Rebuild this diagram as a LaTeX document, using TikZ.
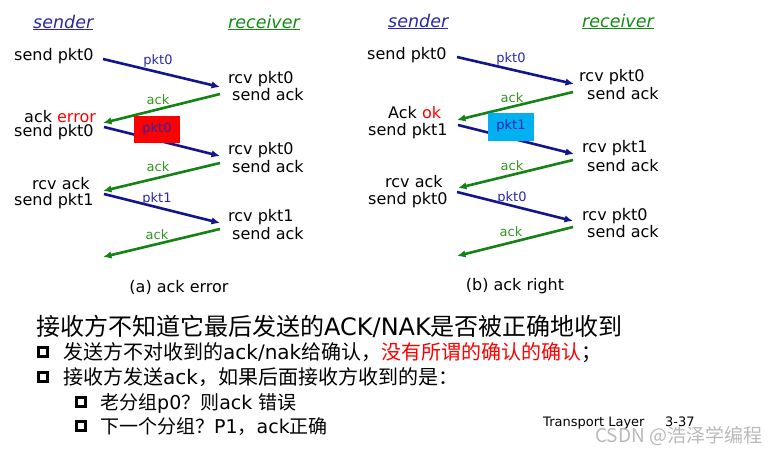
\documentclass[tikz,border=0pt]{standalone}
\usepackage{fontspec}
\setmainfont{DejaVu Sans}
\newfontfamily\cjk{Noto Sans CJK SC}
\usetikzlibrary{arrows.meta}
\definecolor{arrblue}{RGB}{20,20,140}
\definecolor{arrgreen}{RGB}{20,130,20}
\definecolor{lblblue}{RGB}{40,40,170}
\definecolor{lblgreen}{RGB}{50,150,30}
\definecolor{cyanbox}{RGB}{0,176,240}
\definecolor{wmgray}{RGB}{185,185,185}
\definecolor{ttlblue}{RGB}{40,40,170}
\definecolor{ttlgreen}{RGB}{20,140,20}
\tikzset{
  tbase/.style={inner sep=0pt, text height=.76em, text depth=.24em},
  txt/.style={tbase, anchor=base west, font=\fontsize{16}{19}\selectfont},
  captxt/.style={tbase, anchor=base, font=\fontsize{16}{19}\selectfont},
  ttl/.style={tbase, anchor=base west, font=\fontsize{17.5}{20}\selectfont\itshape},
  lbl/.style={tbase, anchor=center, font=\fontsize{13}{15}\selectfont},
  boxlbl/.style={lbl, minimum width=46pt, minimum height=27pt, text=lblblue},
  pktarrow/.style={draw=arrblue, line width=2.6pt, -{Latex[length=8.5pt,width=7.5pt]}},
  ackarrow/.style={draw=arrgreen, line width=2.6pt, -{Latex[length=8.5pt,width=7.5pt]}},
  bigline/.style={inner sep=0pt, anchor=base west, font=\fontsize{24}{28}\selectfont},
  midline/.style={inner sep=0pt, anchor=base west, font=\fontsize{20}{24}\selectfont},
  subline/.style={inner sep=0pt, anchor=base west, font=\fontsize{19}{23}\selectfont},
  bul/.style={draw, line width=2.5pt, minimum size=9pt, inner sep=0pt},
}
\begin{document}
\begin{tikzpicture}[x=1pt,y=-1pt]
\useasboundingbox (0,0) rectangle (783,453);

% ---------- (a) ack error ----------
\node[ttl, text=ttlblue] (snda) at (33,28) {\underline{sender}};
\node[ttl, text=ttlgreen] (rcva) at (228,28) {\underline{receiver}};

\node[txt] (sa1) at (14,60) {send pkt0};
\node[txt] (sa2) at (24,122) {ack \textcolor{red}{error}};
\node[txt] (sa3) at (14,136.5) {send pkt0};
\node[txt] (sa4) at (32,189) {rcv ack};
\node[txt] (sa5) at (14,205) {send pkt1};

\node[txt] (ra1) at (228,83) {rcv pkt0};
\node[txt] (ra2) at (232,100) {send ack};
\node[txt] (ra3) at (228,154) {rcv pkt0};
\node[txt] (ra4) at (232,172) {send ack};
\node[txt] (ra5) at (228,221) {rcv pkt1};
\node[txt] (ra6) at (232,239) {send ack};

\coordinate (pa1s) at (103,59);  \coordinate (pa1e) at (220,87);
\coordinate (aa1s) at (220,94);  \coordinate (aa1e) at (103,123);
\coordinate (pa2s) at (104,127); \coordinate (pa2e) at (220,156);
\coordinate (aa2s) at (220,163); \coordinate (aa2e) at (103,191);
\coordinate (pa3s) at (104,194); \coordinate (pa3e) at (220,223);
\coordinate (aa3s) at (220,229); \coordinate (aa3e) at (103,257);

\draw[pktarrow] (pa1s) -- (pa1e);
\draw[ackarrow] (aa1s) -- (aa1e);
\draw[pktarrow] (pa2s) -- (pa2e);
\draw[ackarrow] (aa2s) -- (aa2e);
\draw[pktarrow] (pa3s) -- (pa3e);
\draw[ackarrow] (aa3s) -- (aa3e);

\node[lbl, text=lblblue] (la1) at (158,61.5) {pkt0};
\node[lbl, text=lblgreen] (la2) at (158,101.5) {ack};
\node[boxlbl, fill=red] (la3) at (157,129.5) {pkt0};
\node[lbl, text=lblgreen] (la4) at (158,168.5) {ack};
\node[lbl, text=lblblue] (la5) at (157,199.5) {pkt1};
\node[lbl, text=lblgreen] (la6) at (157,236.5) {ack};

\node[captxt] (capa) at (179,292) {(a) ack error};

% ---------- (b) ack right ----------
\node[ttl, text=ttlblue] (sndb) at (388,27) {\underline{sender}};
\node[ttl, text=ttlgreen] (rcvb) at (582,27) {\underline{receiver}};

\node[txt] (sb1) at (367,59) {send pkt0};
\node[txt] (sb2) at (388,118.5) {Ack \textcolor{red}{ok}};
\node[txt] (sb3) at (368,135) {send pkt1};
\node[txt] (sb4) at (385,187) {rcv ack};
\node[txt] (sb5) at (368,204) {send pkt0};

\node[txt] (rb1) at (579,81) {rcv pkt0};
\node[txt] (rb2) at (587,99) {send ack};
\node[txt] (rb3) at (582,152) {rcv pkt1};
\node[txt] (rb4) at (587,171) {send ack};
\node[txt] (rb5) at (582,220) {rcv pkt0};
\node[txt] (rb6) at (587,237) {send ack};

\coordinate (pb1s) at (457,57);  \coordinate (pb1e) at (574,84);
\coordinate (ab1s) at (573,92);  \coordinate (ab1e) at (457,120);
\coordinate (pb2s) at (458,125); \coordinate (pb2e) at (574,154);
\coordinate (ab2s) at (573,160); \coordinate (ab2e) at (458,188);
\coordinate (pb3s) at (457,192); \coordinate (pb3e) at (573,221);
\coordinate (ab3s) at (573,227); \coordinate (ab3e) at (457,256);

\draw[pktarrow] (pb1s) -- (pb1e);
\draw[ackarrow] (ab1s) -- (ab1e);
\draw[pktarrow] (pb2s) -- (pb2e);
\draw[ackarrow] (ab2s) -- (ab2e);
\draw[pktarrow] (pb3s) -- (pb3e);
\draw[ackarrow] (ab3s) -- (ab3e);

\node[lbl, text=lblblue] (lb1) at (511,59.5) {pkt0};
\node[lbl, text=lblgreen] (lb2) at (512,99.5) {ack};
\node[boxlbl, fill=cyanbox, minimum height=28pt] (lb3) at (511,127) {pkt1};
\node[lbl, text=lblgreen] (lb4) at (512,167.5) {ack};
\node[lbl, text=lblblue] (lb5) at (512,198.5) {pkt0};
\node[lbl, text=lblgreen] (lb6) at (511,233.5) {ack};

\node[captxt] (capb) at (515,290) {(b) ack right};

% ---------- bottom text ----------
\node[bigline] (t1) at (36,335) {{\cjk 接收方不知道它最后发送的}ACK/NAK{\cjk 是否被正确地收到}};

\node[bul] (b1) at (43,352) {};
\node[midline] (t2) at (63,359) {{\cjk 发送方不对收到的}ack/nak{\cjk 给确认，\textcolor{red}{没有所谓的确认的确认}；}};
\node[bul] (b2) at (43,377) {};
\node[midline] (t3) at (63,384) {{\cjk 接收方发送}ack{\cjk ，如果后面接收方收到的是：}};

\node[bul] (b3) at (81,402) {};
\node[subline] (t4) at (100,409) {{\cjk 老分组}p0{\cjk ？则}ack {\cjk 错误}};
\node[bul] (b4) at (81,426) {};
\node[subline] (t5) at (100,433) {{\cjk 下一个分组？}P1{\cjk ，}ack{\cjk 正确}};

\node[inner sep=0pt, anchor=base west, font=\fontsize{13}{15}\selectfont] (tl) at (543,426) {Transport Layer};
\node[inner sep=0pt, anchor=base west, font=\fontsize{13}{15}\selectfont] (pg) at (665,426) {3-37};

\node[inner sep=0pt, anchor=base west, text=wmgray, font=\fontsize{19}{22}\cjk] (wm) at (595,442) {CSDN @浩泽学编程};
\end{tikzpicture}
\end{document}
